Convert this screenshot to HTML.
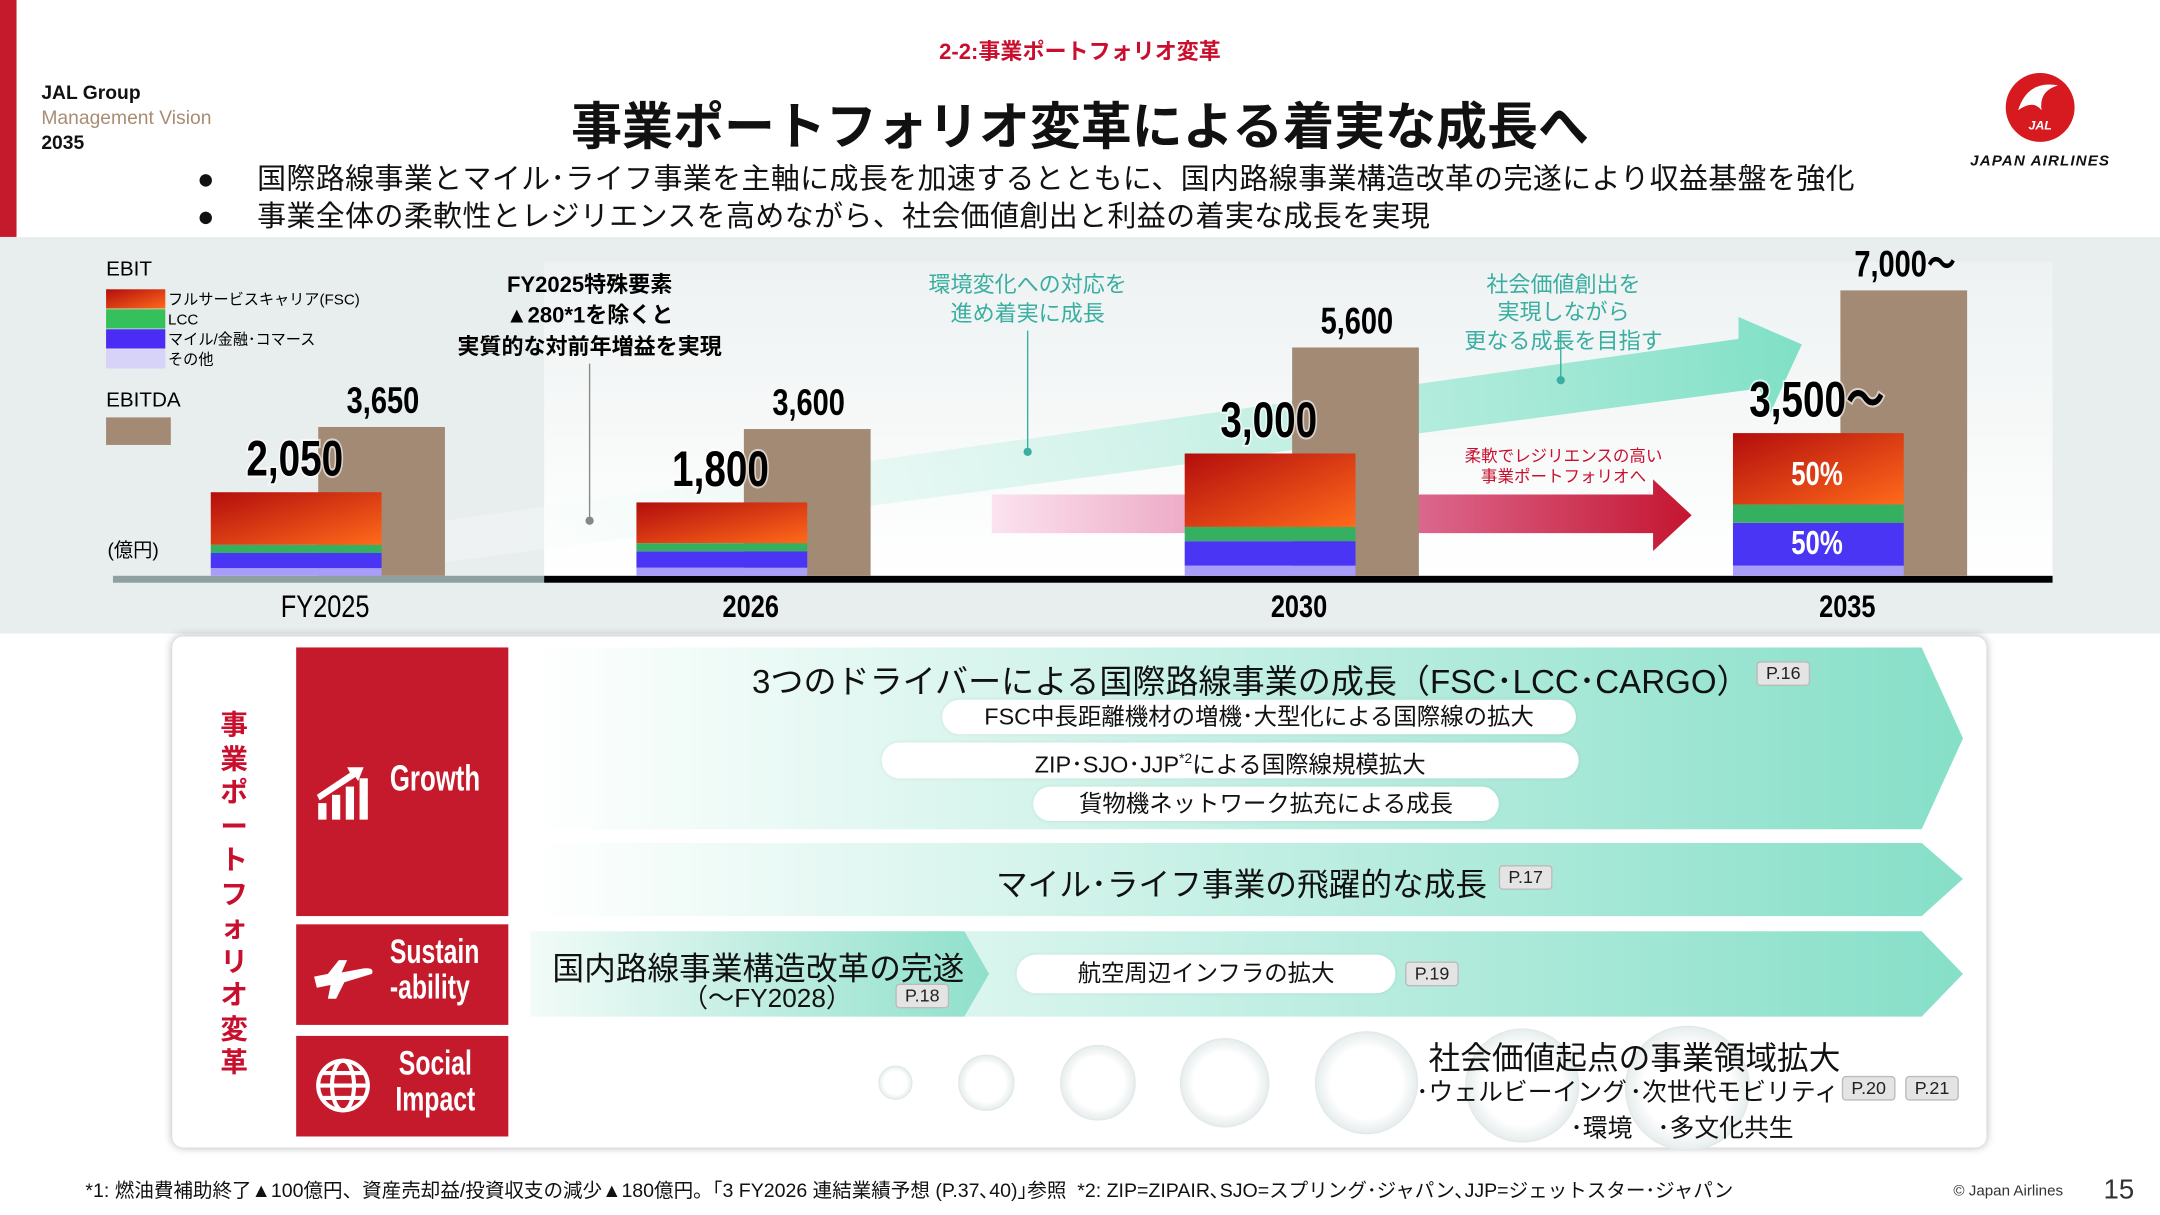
<!DOCTYPE html>
<html><head><meta charset="utf-8">
<style>
html,body{margin:0;padding:0;background:#fff;overflow:hidden}
#wrap{width:2160px;height:1215px;position:relative;overflow:hidden}
#page{width:1568px;height:882px;position:absolute;left:0;top:0;transform:scale(1.377551);transform-origin:0 0;font-family:"Liberation Sans","Noto Sans CJK JP",sans-serif;color:#111}
.a{position:absolute;white-space:nowrap}
.c{transform:translateX(-50%);text-align:center}
.tag{position:absolute;background:#e4e4e4;border:1px solid #bbb;border-radius:3px;font-size:13px;line-height:16px;padding:0 6px;color:#222}
.pill{position:absolute;background:#fff;border-radius:14px;text-align:center;font-size:17px;box-shadow:0 0 3px rgba(0,0,0,.08)}
.red{position:absolute;background:#c41a2b;left:215px;width:154px}
.narrow{font-weight:bold;transform:scaleX(0.72);transform-origin:0 0}
</style></head><body>
<div id="wrap">
<div id="page">
<div class="a" style="left:0;top:0;width:12px;height:172px;background:#c41a2b"></div>
<div class="a c" style="left:784px;top:24px;font-size:16px;font-weight:bold;color:#c8102e">2-2:事業ポートフォリオ変革</div>
<div class="a" style="left:30px;top:58px;font-size:14px;line-height:18px;font-weight:bold">JAL Group<br><span style="color:#a88d72;font-weight:normal">Management Vision</span><br>2035</div>
<div class="a c" style="left:784px;top:62px;font-size:37px;font-weight:bold">事業ポートフォリオ変革による着実な成長へ</div>
<div class="a" style="left:143px;top:114px;font-size:21px;letter-spacing:0.3px">●&nbsp;&nbsp;&nbsp;&nbsp;&nbsp;国際路線事業とマイル･ライフ事業を主軸に成長を加速するとともに、国内路線事業構造改革の完遂により収益基盤を強化</div>
<div class="a" style="left:143px;top:141px;font-size:21px;letter-spacing:0.3px">●&nbsp;&nbsp;&nbsp;&nbsp;&nbsp;事業全体の柔軟性とレジリエンスを高めながら、社会価値創出と利益の着実な成長を実現</div>
<svg class="a" style="left:1410px;top:50px" width="145" height="80"><circle cx="71" cy="28" r="25" fill="#d71920"/><path d="M55 30 Q62 8 84 12 Q70 16 72 30 Q66 22 55 30Z" fill="#fff"/><text x="71" y="44" font-size="9" font-weight="bold" fill="#fff" text-anchor="middle" font-style="italic">JAL</text><text x="71" y="70" font-size="11" font-weight="bold" font-style="italic" text-anchor="middle" fill="#111" letter-spacing="0.8">JAPAN AIRLINES</text></svg>

<svg id="chart" class="a" style="left:0;top:172px" width="1568" height="288" viewBox="0 172 1568 288"></svg>

<div class="a" style="left:125px;top:462px;width:1317px;height:371px;background:#fff;border-radius:8px;box-shadow:0 0 6px rgba(0,0,0,.3)"></div>
<div class="a" style="left:160px;top:515px;width:20px;font-size:20px;font-weight:bold;color:#c8102e;line-height:24.5px;white-space:normal;text-align:center">事業ポートフォリオ変革</div>
<svg class="a" style="left:0;top:0" width="1568" height="882">
<defs><linearGradient id="tg" x1="0" x2="1"><stop offset="0" stop-color="#fff"/><stop offset="1" stop-color="#86dfc8"/></linearGradient>
<linearGradient id="tg2" x1="0" x2="1"><stop offset="0" stop-color="#f2fbf8"/><stop offset="1" stop-color="#8fe0cb"/></linearGradient>
<radialGradient id="bub"><stop offset=".7" stop-color="#fff"/><stop offset="1" stop-color="#e6ecec"/></radialGradient></defs>
<polygon points="385,470 1395,470 1425,536 1395,602 385,602" fill="url(#tg)"/>
<polygon points="385,612 1395,612 1425,638 1395,665 385,665" fill="url(#tg)"/>
<polygon points="385,676 1395,676 1425,707 1395,738 385,738" fill="url(#tg)"/>
<polygon points="385,676 700,676 718,707 700,738 385,738" fill="url(#tg2)"/>
<g fill="url(#bub)" stroke="#e3e9e9"><circle cx="650" cy="786" r="12"/><circle cx="716" cy="786" r="20"/><circle cx="797" cy="786" r="27"/><circle cx="889" cy="786" r="32"/><circle cx="992" cy="786" r="37"/><circle cx="1105" cy="788" r="41"/><circle cx="1225" cy="790" r="45"/></g>
</svg>
<div class="red" style="top:470px;height:195px"></div>
<div class="red" style="top:671px;height:73px"></div>
<div class="red" style="top:752px;height:73px"></div>
<svg class="a" style="left:228px;top:555px" width="44" height="42"><g fill="#fff"><rect x="3" y="28" width="6" height="12"/><rect x="13" y="22" width="6" height="18"/><rect x="23" y="16" width="6" height="24"/><rect x="33" y="10" width="6" height="30"/><path d="M2 22 L26 6 L24 2 L36 2 L32 12 L30 9 L4 26Z"/></g></svg>
<div class="a narrow" style="left:283px;top:550px;font-size:26px;color:#fff">Growth</div>
<svg class="a" style="left:226px;top:693px" width="46" height="34"><path d="M2 16 L12 14 L20 4 L26 4 L22 13 L38 10 Q46 9 44 14 L24 20 L18 32 L12 32 L14 22 L4 24Z" fill="#fff"/></svg>
<div class="a narrow" style="left:283px;top:678px;font-size:25px;line-height:26px;color:#fff">Sustain<br>-ability</div>
<svg class="a" style="left:229px;top:768px" width="40" height="40"><g fill="none" stroke="#fff" stroke-width="3"><circle cx="20" cy="20" r="18"/><ellipse cx="20" cy="20" rx="8" ry="18"/><line x1="2" y1="20" x2="38" y2="20"/><path d="M5 11 H35 M5 29 H35"/></g></svg>
<div class="a narrow" style="left:287px;top:759px;font-size:25px;line-height:26px;color:#fff;text-align:center">Social<br>Impact</div>

<div class="a c" style="left:908px;top:475px;font-size:24px">3つのドライバーによる国際路線事業の成長（FSC･LCC･CARGO）</div>
<div class="tag" style="left:1275px;top:480px">P.16</div>
<div class="pill" style="left:684px;top:508px;width:460px;height:25px;line-height:25px">FSC中長距離機材の増機･大型化による国際線の拡大</div>
<div class="pill" style="left:640px;top:539px;width:506px;height:26px;line-height:26px">ZIP･SJO･JJP<sup style="font-size:10px">*2</sup>による国際線規模拡大</div>
<div class="pill" style="left:750px;top:571px;width:338px;height:25px;line-height:25px">貨物機ネットワーク拡充による成長</div>
<div class="a" style="left:723px;top:623px;font-size:23px">マイル･ライフ事業の飛躍的な成長</div>
<div class="tag" style="left:1088px;top:628px">P.17</div>
<div class="a" style="left:401px;top:684px;font-size:23px">国内路線事業構造改革の完遂</div>
<div class="a" style="left:495px;top:710px;font-size:19px">（〜FY2028）</div>
<div class="tag" style="left:650px;top:714px">P.18</div>
<div class="pill" style="left:738px;top:693px;width:275px;height:28px;line-height:28px">航空周辺インフラの拡大</div>
<div class="tag" style="left:1020px;top:698px">P.19</div>
<div class="a" style="left:1037px;top:749px;font-size:23px">社会価値起点の事業領域拡大</div>
<div class="a" style="left:1028px;top:779px;font-size:18px">･ウェルビーイング</div>
<div class="a" style="left:1183px;top:779px;font-size:18px">･次世代モビリティ</div>
<div class="tag" style="left:1337px;top:781px">P.20</div>
<div class="tag" style="left:1383px;top:781px">P.21</div>
<div class="a" style="left:1140px;top:805px;font-size:18px">･環境</div>
<div class="a" style="left:1203px;top:805px;font-size:18px">･多文化共生</div>

<div class="a" style="left:62px;top:854px;font-size:14.2px">*1: 燃油費補助終了▲100億円、資産売却益/投資収支の減少▲180億円。｢3 FY2026 連結業績予想 (P.37､40)｣参照 &nbsp;*2: ZIP=ZIPAIR､SJO=スプリング･ジャパン､JJP=ジェットスター･ジャパン</div>
<div class="a" style="left:1418px;top:859px;font-size:11px;color:#333">© Japan Airlines</div>
<div class="a" style="left:1527px;top:853px;font-size:20px;color:#333">15</div>
</div></div>
<script>
const categories = ["FY2025","2026","2030","2035"];
const fscValues = [1290,1000,1800,1750];
const lccValues = [200,200,350,450];
const mileValues = [370,400,600,1050];
const otherValues = [190,200,250,250];
const ebitTotals = [2050,1800,3000,3500];
const ebitdaValues = [3650,3600,5600,7000];
const ebitLabels = ["2,050","1,800","3,000","3,500〜"];
const ebitdaLabels = ["3,650","3,600","5,600","7,000〜"];

const NS="http://www.w3.org/2000/svg";
const svg=document.getElementById('chart');
const base=418, k=0.0296;
function y(v){return base - v*k;}
function xc(i){return i===0?236:545+(i-1)*398;}
function mk(tag,attrs,name){const e=document.createElementNS(NS,tag);for(const a in attrs)e.setAttribute(a,attrs[a]);


svg.appendChild(e);return e;}
function txt(x,yy,s,attrs,name){const t=mk('text',Object.assign({x:x,y:yy},attrs),name);t.textContent=s;return t;}
function squish(t,x,f){t.setAttribute('transform','translate('+x+',0) scale('+f+',1) translate('+(-x)+',0)');}

svg.innerHTML='<defs><linearGradient id="bgw" x1="0" x2="0" y1="0" y2="1"><stop offset="0" stop-color="#eef2f2"/><stop offset="1" stop-color="#fff"/></linearGradient>'+
'<linearGradient id="fsc" x1="0" y1="0" x2="1" y2="1"><stop offset="0" stop-color="#b30d0d"/><stop offset="1" stop-color="#ff6a1a"/></linearGradient>'+
'<linearGradient id="ga" x1="0" x2="1"><stop offset="0" stop-color="#fff" stop-opacity="0.3"/><stop offset="1" stop-color="#7fe0c6"/></linearGradient>'+
'<linearGradient id="pa" x1="0" x2="1"><stop offset="0" stop-color="#fbe3ee"/><stop offset="0.5" stop-color="#e27fa8"/><stop offset="1" stop-color="#c41530"/></linearGradient></defs>';
mk('rect',{x:0,y:172,width:1568,height:288,fill:'#e8eded'},'chart-background');
mk('rect',{x:395,y:190,width:1095,height:230,fill:'url(#bgw)'},'chart-highlight');
mk('polygon',{points:'323,378 1262,246 1262,230 1308,250 1285,300 1277,282 323,408',fill:'url(#ga)'},'growth-arrow');
mk('polygon',{points:'720,359 1200,359 1200,348 1228,374 1200,400 1200,387 720,387',fill:'url(#pa)'},'resilience-arrow');

txt(77,200,'EBIT',{'font-size':15},'legend-ebit-title');
const lg=[['url(#fsc)','フルサービスキャリア(FSC)'],['#34c05a','LCC'],['#4a2cf5','マイル/金融･コマース'],['#d6d2f8','その他']];
lg.forEach((l,i)=>{mk('rect',{x:77,y:210+i*14.5,width:43,height:14,fill:l[0]},'legend-swatch-'+i);txt(122,221+i*14.5,l[1],{'font-size':11},'legend-label-'+i);});
txt(77,295,'EBITDA',{'font-size':15},'legend-ebitda-title');
mk('rect',{x:77,y:303,width:47,height:20,fill:'#a38a75'},'legend-ebitda-swatch');
txt(78,404,'(億円)',{'font-size':14},'unit-label');

mk('rect',{x:82,y:418,width:313,height:5,fill:'#8fa0a3'},'axis-past');
mk('rect',{x:395,y:418,width:1095,height:5,fill:'#000'},'axis-future');

const segs=[[otherValues,'#a89ef8'],[mileValues,'#4a35f5'],[lccValues,'#34b060'],[fscValues,'url(#fsc)']];
categories.forEach((c,i)=>{
  const cx=xc(i);
  mk('rect',{x:cx-5,y:y(ebitdaValues[i]),width:92,height:base-y(ebitdaValues[i]),fill:'#a38a75'},'ebitda-bar-'+c);
  let acc=0;
  segs.forEach((s,j)=>{const v=s[0][i];mk('rect',{x:cx-83,y:y(acc+v),width:124,height:v*k,fill:s[1]},'ebit-seg-'+j+'-'+c);acc+=v;});
  const lx=cx-22+(i===3?0:0);
  const t1=txt(lx,y(ebitTotals[i])-12,ebitLabels[i],{'font-size':36,'font-weight':'bold','text-anchor':'middle',style:'paint-order:stroke',stroke:'#fff','stroke-width':3,'stroke-opacity':0.6},'ebit-label-'+c);
  squish(t1,lx,0.78);
  const t2=txt(cx+42,y(ebitdaValues[i])-10,ebitdaLabels[i],{'font-size':27,'font-weight':'bold','text-anchor':'middle'},'ebitda-label-'+c);
  squish(t2,cx+42,0.78);
  const t3=txt(cx,448,c,{'font-size':23,'font-weight':i===0?'normal':'bold','text-anchor':'middle'},'x-label-'+c);
  squish(t3,cx,0.8);
});
const s1=txt(1319,352,'50%',{'font-size':24,'font-weight':'bold',fill:'#fff','text-anchor':'middle'},'share-fsc');squish(s1,1319,0.78);
const s2=txt(1319,402,'50%',{'font-size':24,'font-weight':'bold',fill:'#fff','text-anchor':'middle'},'share-other');squish(s2,1319,0.78);

[['FY2025特殊要素',212],['▲280*1を除くと',234],['実質的な対前年増益を実現',257]].forEach((a,i)=>txt(428,a[1],a[0],{'font-size':16,'font-weight':'bold','text-anchor':'middle'},'note-fy2025-'+i));
mk('line',{x1:428,y1:264,x2:428,y2:378,stroke:'#888','stroke-width':1},'note-fy2025-line');
mk('circle',{cx:428,cy:378,r:3,fill:'#888'},'note-fy2025-dot');
[['環境変化への対応を',212],['進め着実に成長',233]].forEach((a,i)=>txt(746,a[1],a[0],{'font-size':16,fill:'#3aaea0','text-anchor':'middle'},'note-env-'+i));
mk('line',{x1:746,y1:240,x2:746,y2:328,stroke:'#3aaea0'},'note-env-line');
mk('circle',{cx:746,cy:328,r:3,fill:'#3aaea0'},'note-env-dot');
[['社会価値創出を',212],['実現しながら',232],['更なる成長を目指す',253]].forEach((a,i)=>txt(1135,a[1],a[0],{'font-size':16,fill:'#3aaea0','text-anchor':'middle'},'note-social-'+i));
mk('line',{x1:1133,y1:240,x2:1133,y2:276,stroke:'#3aaea0'},'note-social-line');
mk('circle',{cx:1133,cy:276,r:3,fill:'#3aaea0'},'note-social-dot');
txt(1135,335,'柔軟でレジリエンスの高い',{'font-size':12,fill:'#c8102e','text-anchor':'middle'},'note-resilience-0');
txt(1135,350,'事業ポートフォリオへ',{'font-size':12,fill:'#c8102e','text-anchor':'middle'},'note-resilience-1');
</script>
</body></html>
